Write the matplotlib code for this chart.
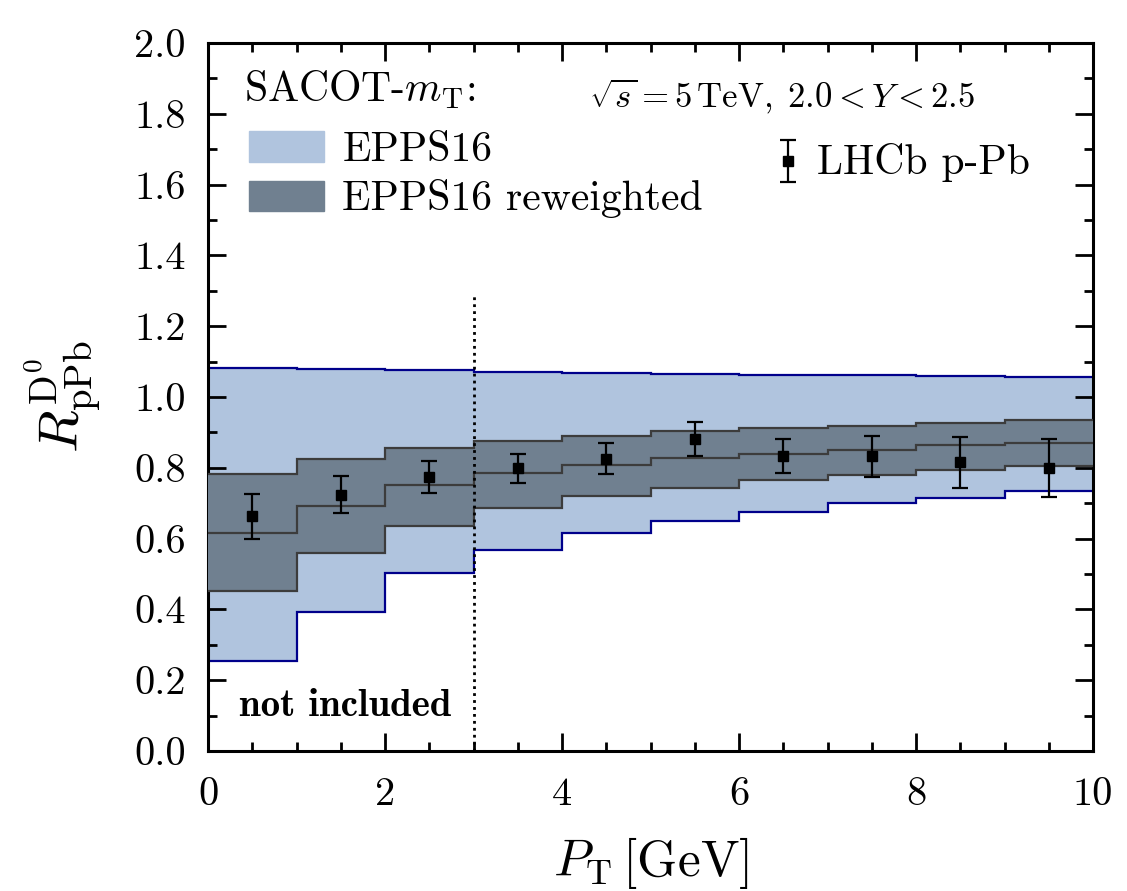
import matplotlib
matplotlib.use('Agg')
import matplotlib.pyplot as plt
import numpy as np
from matplotlib.patches import Patch

plt.rcParams['font.family'] = 'serif'
plt.rcParams['font.serif'] = ['cmr10']
plt.rcParams['mathtext.fontset'] = 'cm'
plt.rcParams['axes.formatter.use_mathtext'] = True
plt.rcParams['axes.unicode_minus'] = False

# pT bins (GeV)
edges = np.arange(0, 11, 1)

# EPPS16 band
epps_hi = [1.081, 1.079, 1.075, 1.071, 1.068, 1.065, 1.062, 1.061, 1.059, 1.057]
epps_lo = [0.255, 0.394, 0.503, 0.569, 0.617, 0.649, 0.676, 0.700, 0.716, 0.734]

# EPPS16 reweighted band and central value
rw_hi = [0.782, 0.826, 0.856, 0.877, 0.890, 0.903, 0.912, 0.919, 0.926, 0.934]
rw_c = [0.616, 0.693, 0.750, 0.786, 0.809, 0.828, 0.840, 0.850, 0.863, 0.871]
rw_lo = [0.453, 0.558, 0.636, 0.686, 0.720, 0.743, 0.765, 0.780, 0.795, 0.805]

# LHCb p-Pb data
pt_data = [0.5, 1.5, 2.5, 3.5, 4.5, 5.5, 6.5, 7.5, 8.5, 9.5]
r_data = [0.663, 0.723, 0.775, 0.799, 0.826, 0.880, 0.833, 0.832, 0.815, 0.799]
r_up = [0.726, 0.776, 0.820, 0.840, 0.869, 0.929, 0.881, 0.889, 0.888, 0.881]
r_dn = [0.599, 0.671, 0.730, 0.756, 0.782, 0.832, 0.784, 0.774, 0.744, 0.717]

light = '#b0c4de'
dark = '#708090'
edge_blue = '#00008b'
edge_gray = '#3c3c3c'

fig = plt.figure(figsize=(11.27, 8.91), dpi=100)
ax = fig.add_axes([208/1127, 140/891, 885/1127, 708/891])

ax.stairs(epps_hi, edges, baseline=epps_lo, fill=True, color=light, lw=0, zorder=1)
ax.stairs(epps_hi, edges, baseline=None, color=edge_blue, lw=1.6, zorder=2)
ax.stairs(epps_lo, edges, baseline=None, color=edge_blue, lw=1.6, zorder=2)

ax.stairs(rw_hi, edges, baseline=rw_lo, fill=True, color=dark, lw=0, zorder=3)
ax.stairs(rw_hi, edges, baseline=None, color=edge_gray, lw=1.6, zorder=4)
ax.stairs(rw_lo, edges, baseline=None, color=edge_gray, lw=1.6, zorder=4)
ax.stairs(rw_c, edges, baseline=None, color=edge_gray, lw=1.6, zorder=4)

ax.vlines(3, 0, 1.29, colors='k', linestyles=(0, (1, 1.5)), lw=2, zorder=5)

yerr = [np.array(r_data) - np.array(r_dn), np.array(r_up) - np.array(r_data)]
eb = ax.errorbar(pt_data, r_data, yerr=yerr, fmt='s', color='k', ms=6.5, lw=1.6,
                 capsize=6, capthick=1.6, zorder=6)

ax.set_xlim(0, 10)
ax.set_ylim(0, 2.0)
ax.set_xticks(np.arange(0, 11, 2))
ax.set_yticks(np.arange(0, 2.01, 0.2))
ax.set_xticks(np.arange(0, 10.01, 0.5), minor=True)
ax.set_yticks(np.arange(0, 2.01, 0.1), minor=True)
ax.xaxis.set_major_formatter(matplotlib.ticker.FormatStrFormatter('%d'))
ax.yaxis.set_major_formatter(matplotlib.ticker.FormatStrFormatter('%.1f'))
ax.tick_params(which='both', direction='in', top=True, right=True, width=2, labelsize=29)
ax.tick_params(which='major', length=13)
ax.tick_params(which='minor', length=6.5)
ax.tick_params(axis='y', pad=16)
ax.tick_params(axis='x', pad=19)
for s in ax.spines.values():
    s.set_linewidth(2.2)

ax.set_xlabel(r'$P_{\mathrm{T}}\,[\mathrm{GeV}]$', fontsize=37, labelpad=16)
ax.set_ylabel(r'$R_{\mathrm{pPb}}^{\mathrm{D}^0}$', fontsize=40, labelpad=22)

ax.text(0.041, 0.934, r'SACOT-$m_{\mathrm{T}}$:', transform=ax.transAxes,
        fontsize=30, ha='left', va='center')
leg1 = ax.legend([Patch(color=light), Patch(color=dark)],
                 ['EPPS16', 'EPPS16 reweighted'], fontsize=30,
                 loc='upper left', bbox_to_anchor=(0.027, 0.899), frameon=False,
                 handlelength=1.8, handleheight=0.75,
                 handletextpad=0.45, labelspacing=0.25, borderaxespad=0)
ax.add_artist(leg1)
ax.legend([eb], ['LHCb p-Pb'], fontsize=30, loc='upper left',
          bbox_to_anchor=(0.625, 0.882), frameon=False, handlelength=0.5,
          handleheight=0.45, handletextpad=0.45, borderaxespad=0)

ax.text(0.649, 0.924, r'$\sqrt{s} = 5\,\mathrm{TeV},\; 2.0 < Y < 2.5$', transform=ax.transAxes,
        fontsize=25, ha='center', va='center')
ax.text(1.55, 0.125, 'not included', fontfamily='cmb10', fontsize=28,
        ha='center', va='center')

fig.savefig('out.png', dpi=100)
